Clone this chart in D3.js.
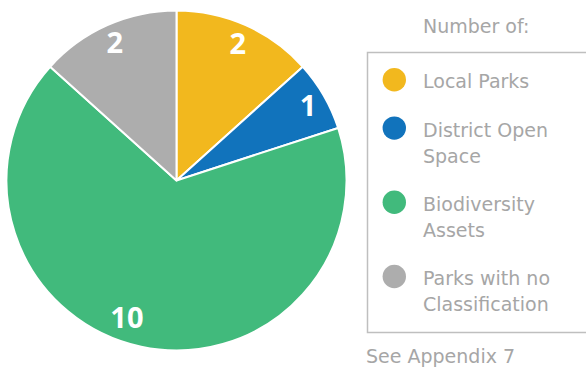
<!DOCTYPE html>
<html>
<head>
<meta charset="utf-8">
<script src="https://cdn.jsdelivr.net/npm/d3@7"></script>
<style>
  html, body { margin: 0; padding: 0; background: #fff; }
  svg { display: block; }
</style>
</head>
<body>
<svg id="chart" width="586" height="371"></svg>
<script>
// Counts of open-space types
const categories = ["Local Parks", "District Open Space", "Biodiversity Assets", "Parks with no Classification"];
const values = [2, 1, 10, 2];
const colors = ["#F2B81E", "#1173BC", "#41BA7C", "#ADADAD"];
const legendLines = [["Local Parks"], ["District Open", "Space"], ["Biodiversity", "Assets"], ["Parks with no", "Classification"]];
const legendTitle = "Number of:";
const footnote = "See Appendix 7";
// small angular nudges (degrees) for the value labels
const labelShift = [0, 0, 8, 0];

const svg = d3.select("#chart");
const cx = 176.5, cy = 180.5, R = 170;

const pie = d3.pie().sort(null).value(d => d)(values);
const arc = d3.arc().innerRadius(0).outerRadius(R);

const g = svg.append("g").attr("transform", `translate(${cx},${cy})`);
g.selectAll("path.slice")
  .data(pie)
  .join("path")
  .attr("class", "slice")
  .attr("d", arc)
  .attr("fill", (d, i) => colors[i])
  .attr("stroke", "#fff")
  .attr("stroke-width", 2)
  .attr("stroke-linejoin", "round");

// value labels
const labelR = [151, 152, 145, 152];
g.selectAll("text.val")
  .data(pie)
  .join("text")
  .attr("class", "val")
  .attr("x", (d, i) => {
    const a = (d.startAngle + d.endAngle) / 2 + labelShift[i] * Math.PI / 180;
    return Math.sin(a) * labelR[i];
  })
  .attr("y", (d, i) => {
    const a = (d.startAngle + d.endAngle) / 2 + labelShift[i] * Math.PI / 180;
    return -Math.cos(a) * labelR[i];
  })
  .attr("text-anchor", "middle")
  .attr("dominant-baseline", "central")
  .attr("font-family", "'Open Sans', sans-serif")
  .attr("font-weight", 700)
  .attr("font-size", 29)
  .attr("fill", "#fff")
  .text(d => d.data);

// legend
const textColor = "#A6A6A6";
const font = "'DejaVu Sans', sans-serif";
const fs = 19;
svg.append("text")
  .attr("x", 423).attr("y", 33)
  .attr("font-family", font).attr("font-size", fs)
  .attr("fill", textColor)
  .text(legendTitle);

svg.append("rect")
  .attr("x", 367.5).attr("y", 52.5)
  .attr("width", 240).attr("height", 280)
  .attr("fill", "none")
  .attr("stroke", "#BFBFBF")
  .attr("stroke-width", 1.5);

const lineH = 25.8, gap = 22.6;
let y = 88.3;
const lg = svg.append("g");
categories.forEach((c, i) => {
  const item = lg.append("g");
  item.append("circle")
    .attr("cx", 394.3).attr("cy", y - 8.6)
    .attr("r", 11.7)
    .attr("fill", colors[i]);
  legendLines[i].forEach((ln, j) => {
    item.append("text")
      .attr("x", 423).attr("y", y + j * lineH)
      .attr("font-family", font).attr("font-size", fs)
      .attr("fill", textColor)
      .text(ln);
  });
  y += legendLines[i].length * lineH + gap;
});

svg.append("text")
  .attr("x", 366).attr("y", 363)
  .attr("font-family", font).attr("font-size", fs)
  .attr("fill", textColor)
  .text(footnote);
</script>
</body>
</html>
